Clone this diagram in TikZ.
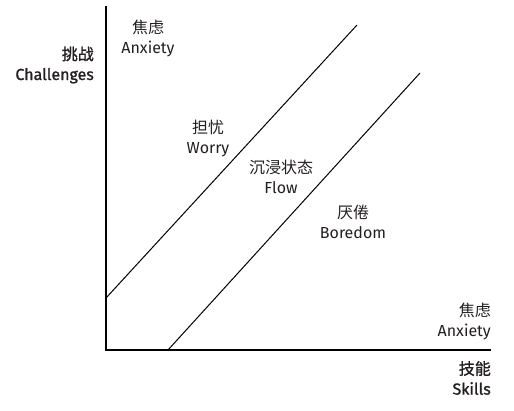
\documentclass[tikz,border=0pt]{standalone}
\usepackage{fontspec}
\setmainfont{Fira Sans}
\newfontfamily\cjk{Noto Sans CJK SC}
\newfontfamily\axlat{Fira Sans}[FakeBold=1.2]
\newfontfamily\axcjk{Noto Sans CJK SC}[FakeBold=1.2]
\definecolor{ink}{HTML}{231F20}
\newcommand{\twoline}[2]{{\cjk #1}\\#2}
\newcommand{\axtwo}[2]{{\axcjk #1}\\{\axlat #2}}
\begin{document}
\begin{tikzpicture}[x=1pt,y=-1pt,
  lbl/.style={align=center,text=ink,font=\fontsize{16}{20}\selectfont,inner sep=0pt},
  axlbl/.style={align=right,anchor=east,text=ink,font=\fontsize{16}{20}\selectfont,inner sep=0pt},
  axis/.style={draw=black,line width=2pt},
  diag/.style={draw=black,line width=1pt}]
\useasboundingbox (0,0) rectangle (514,411);
\coordinate (ytop) at (106,6);
\coordinate (orig) at (106,350);
\coordinate (xend) at (491,350);
\draw[axis] (ytop) -- (orig) -- (xend);
\coordinate (u1) at (106,298);
\coordinate (u2) at (357,25);
\coordinate (l1) at (168,350);
\coordinate (l2) at (420,73);
\draw[diag] (u1) -- (u2);
\draw[diag] (l1) -- (l2);
\node[lbl] (anx1) at (148,38) {\twoline{焦虑}{Anxiety}};
\node[axlbl] (chal) at (94,65) {\axtwo{挑战}{Challenges}};
\node[lbl] (worry) at (208,138) {\twoline{担忧}{Worry}};
\node[lbl] (flow) at (281,177) {\twoline{沉浸状态}{Flow}};
\node[lbl] (bore) at (353,222) {\twoline{厌倦}{Boredom}};
\node[lbl,align=right,anchor=east] (anx2) at (491,321) {\twoline{焦虑}{Anxiety}};
\node[axlbl] (skills) at (491,378) {\axtwo{技能}{Skills}};
\end{tikzpicture}
\end{document}
